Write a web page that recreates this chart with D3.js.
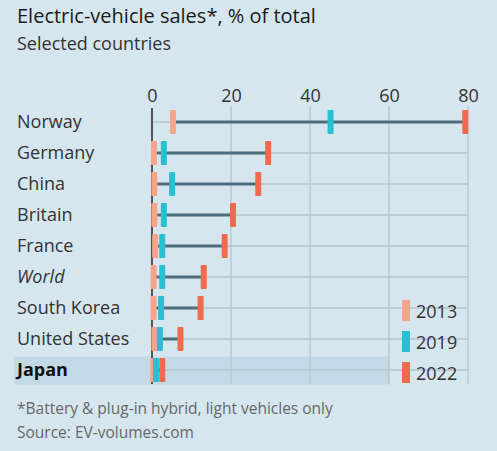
<!DOCTYPE html>
<html><head><meta charset="utf-8">
<script src="https://cdn.jsdelivr.net/npm/d3@7"></script>
<style>html,body{margin:0;padding:0;background:#d6e6ef;}svg{display:block;font-family:"Open Sans",sans-serif;}</style>
</head><body><svg id="c" width="497" height="451"></svg>
<script>
const countries = ["Norway","Germany","China","Britain","France","World","South Korea","United States","Japan"];
const v2013 = [5.3, 0.5, 0.6, 0.6, 0.8, 0.4, 0.4, 0.6, 0.3];
const v2019 = [45.2, 3.0, 5.1, 3.0, 2.6, 2.6, 2.3, 2.0, 1.0];
const v2022 = [79.3, 29.4, 26.9, 20.5, 18.4, 13.1, 12.3, 7.2, 2.6];
const ticks = [0, 20, 40, 60, 80];
const years = ["2013","2019","2022"];
const colors = {"2013":"#f7a58a","2019":"#27bfd2","2022":"#f26a4e"};

const svg = d3.select("#c");
svg.append("rect").attr("width",497).attr("height",451).attr("fill","#d6e6ef");

const x = d3.scaleLinear().domain([0,80]).range([152,468]);
const y = d3.scaleBand().domain(countries).range([106.5,385.5]);
const yc = d => y(d) + y.bandwidth()/2;

// title
svg.append("text").attr("x",17).attr("y",23).attr("font-size",20).attr("font-weight",500).attr("fill","#1a1a1a").text("Electric-vehicle sales*, % of total");
svg.append("text").attr("x",17).attr("y",50).attr("font-size",18).attr("fill","#333").text("Selected countries");

// Japan highlight band
svg.append("rect").attr("x",14).attr("y",y("Japan")+2).attr("width",x(60)-14).attr("height",y.bandwidth()-3).attr("fill","#c3dae6");

// vertical gridlines
const gTop = 106, gBot = 384;
svg.append("g").selectAll("line").data(ticks.filter(t=>t>0)).join("line")
  .attr("x1",d=>x(d)).attr("x2",d=>x(d)).attr("y1",gTop).attr("y2",gBot)
  .attr("stroke","#b5c5cd").attr("stroke-width",1.3);
// tick labels
const ax = d3.axisTop(x).tickValues(ticks).tickSize(0).tickPadding(0);
const axg = svg.append("g").attr("transform","translate(0,104)").call(ax);
axg.select(".domain").remove();
axg.selectAll("text").attr("font-size",18).attr("fill","#333").attr("font-family","Open Sans").attr("dy","-0.1em");

// horizontal row lines
svg.append("g").selectAll("line").data(countries).join("line")
  .attr("x1",x(0)).attr("x2",x(80)).attr("y1",d=>yc(d)).attr("y2",d=>yc(d))
  .attr("stroke","#b5c5cd").attr("stroke-width",1.3);

// zero line
svg.append("line").attr("x1",x(0)).attr("x2",x(0)).attr("y1",gTop+2).attr("y2",gBot)
  .attr("stroke","#333").attr("stroke-width",1.6);

// connectors
svg.append("g").selectAll("line").data(countries).join("line")
  .attr("x1",(d,i)=>x(v2013[i])).attr("x2",(d,i)=>x(v2022[i]))
  .attr("y1",d=>yc(d)).attr("y2",d=>yc(d))
  .attr("stroke","#4d6d7c").attr("stroke-width",3);

// markers
const series = {"2013":v2013,"2019":v2019,"2022":v2022};
years.forEach(yr=>{
  svg.append("g").selectAll("rect").data(countries).join("rect")
    .attr("x",(d,i)=>x(series[yr][i])-3).attr("width",6)
    .attr("y",d=>yc(d)-12).attr("height",24).attr("rx",1)
    .attr("fill",colors[yr]);
});

// country labels
svg.append("g").selectAll("text").data(countries).join("text")
  .attr("x",17).attr("y",d=>yc(d)+6).attr("font-size",18)
  .attr("font-style",d=>d==="World"?"italic":"normal")
  .attr("font-weight",d=>d==="Japan"?"bold":"normal")
  .attr("fill",d=>d==="Japan"?"#111":"#333")
  .text(d=>d);

// legend
const lg = svg.append("g");
years.forEach((yr,i)=>{
  const ly = 311 + i*31;
  lg.append("rect").attr("x",402).attr("y",ly-11).attr("width",8).attr("height",21).attr("fill",colors[yr]);
  lg.append("text").attr("x",416).attr("y",ly+7).attr("font-size",18).attr("fill","#333").text(yr);
});

// footnotes
svg.append("text").attr("x",17).attr("y",414).attr("font-size",15.5).attr("fill","#666").text("*Battery & plug-in hybrid, light vehicles only");
svg.append("text").attr("x",17).attr("y",438).attr("font-size",15.5).attr("fill","#666").text("Source: EV-volumes.com");
</script></body></html>
